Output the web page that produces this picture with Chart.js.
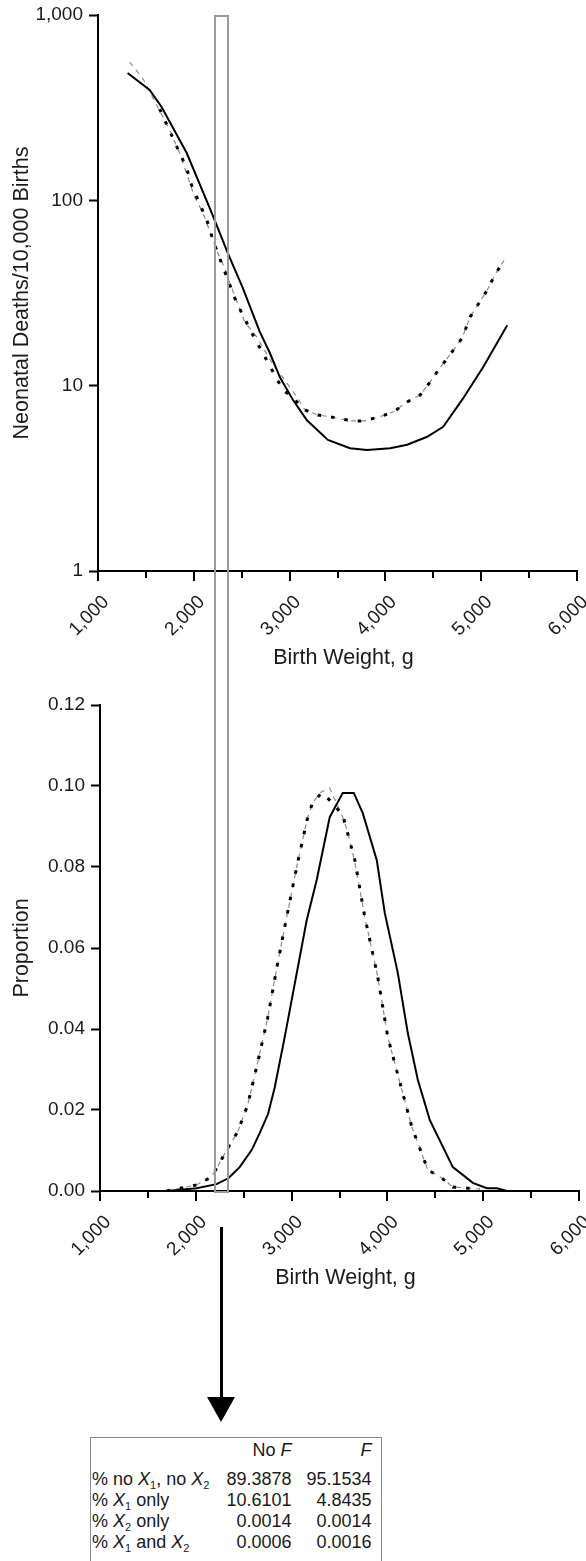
<!DOCTYPE html>
<html>
<head>
<meta charset="utf-8">
<script src="https://cdn.jsdelivr.net/npm/chart.js@4.4.1/dist/chart.umd.min.js"></script>
<style>
html,body{margin:0;padding:0;background:#fff;}
body{width:586px;height:1561px;position:relative;overflow:hidden;font-family:"Liberation Sans",Arial,sans-serif;color:#1a1a1a;}
canvas{position:absolute;left:0;}
#c1{top:0;}
#c2{top:680px;}
#rect{position:absolute;border:2px solid #9a9a9a;box-sizing:border-box;}
#shaft{position:absolute;background:#000;}
#head{position:absolute;width:0;height:0;}
#tbl{position:absolute;left:90px;top:1437px;width:292px;height:140px;border:1.5px solid #8c8c8c;box-sizing:border-box;font-size:18px;}
.r{position:absolute;left:0;width:100%;height:20px;line-height:20px;white-space:nowrap;}
.l{position:absolute;left:1px;top:0;}
.c1{position:absolute;right:89.5px;top:0;}
.c2{position:absolute;right:9.5px;top:0;}
.s{font-size:11px;position:relative;top:4px;}
i{font-style:italic;}
</style>
</head>
<body>
<canvas id="c1" width="586" height="680"></canvas>
<canvas id="c2" width="586" height="620"></canvas>
<div id="rect"></div>
<div id="shaft"></div>
<div id="head"></div>
<div id="tbl">
  <div class="r" style="top:1.5px"><span class="c1">No <i>F</i></span><span class="c2"><i>F</i></span></div>
  <div class="r" style="top:30.5px"><span class="l">% no <i>X</i><span class="s">1</span>, no <i>X</i><span class="s">2</span></span><span class="c1">89.3878</span><span class="c2">95.1534</span></div>
  <div class="r" style="top:51.5px"><span class="l">% <i>X</i><span class="s">1</span> only</span><span class="c1">10.6101</span><span class="c2">4.8435</span></div>
  <div class="r" style="top:72.5px"><span class="l">% <i>X</i><span class="s">2</span> only</span><span class="c1">0.0014</span><span class="c2">0.0014</span></div>
  <div class="r" style="top:93.5px"><span class="l">% <i>X</i><span class="s">1</span> and <i>X</i><span class="s">2</span></span><span class="c1">0.0006</span><span class="c2">0.0016</span></div>
</div>
<script>
// ---------- DATA ----------
const xTicks = [1000, 2000, 3000, 4000, 5000, 6000];
const topYTicks = [1, 10, 100, 1000];
const botYTicks = [0, 0.02, 0.04, 0.06, 0.08, 0.10, 0.12];

// Top panel: neonatal deaths per 10,000 births
const topSolidX = [1309,1539,1664,1926,2187,2354,2512,2689,2794,2899,3034,3181,3400,3630,3808,4049,4227,4436,4603,4802,5021,5272];
const topSolidY = [486,394,319,180,85.5,52,33.6,19.5,15.0,11.1,8.4,6.5,5.1,4.6,4.5,4.6,4.8,5.3,6.0,8.4,12.6,21.2];

const topDotX = [1643,1926,1968,2156,2198,2428,2490,2616,2930,3034,3159,3295,3421,3546,3662,3787,3892,3996,4101,4206,4362,4457,4551,4687,4802,4885,5063,5147,5241];
const topDotY = [311,149,124,73.6,61.1,29.7,25.3,18.8,9.5,8.6,7.4,6.95,6.8,6.6,6.45,6.45,6.7,6.95,7.3,8.06,8.9,10.3,12.1,15.0,18.1,23.5,32.8,40.0,47.6];

const topGrayX = [1330,1465,1748,1852,2009,2093,2250,2323,2375,2532,2658,2815,3076,3159,3295,3421,3546,3662,3787,3892,3996,4101,4206,4362,4457,4551,4687,4802,4885,5063,5147,5241];
const topGrayY = [557,457,240,180,104,86.5,52,43.1,35.8,22.0,18.3,13.3,8.7,7.4,6.95,6.8,6.6,6.45,6.45,6.7,6.95,7.3,8.06,8.9,10.3,12.1,15.0,18.1,23.5,32.8,40.0,47.6];

// Bottom panel: proportion of births
const botSolidX = [1695,2008,2217,2343,2458,2583,2667,2754,2823,2928,3158,3262,3398,3534,3649,3743,3889,3973,4109,4213,4318,4443,4683,4892,5038,5143,5247];
const botSolidY = [0,0.0007,0.0017,0.0032,0.0059,0.0101,0.0143,0.019,0.0255,0.038,0.0669,0.0768,0.0923,0.0983,0.0983,0.0933,0.0817,0.0686,0.0538,0.039,0.0274,0.0175,0.0059,0.002,0.0007,0.0007,0];

const botDotX = [1695,1904,2008,2165,2249,2322,2437,2541,2635,2750,2855,2949,3064,3168,3221,3315,3420,3534,3660,3764,3900,4004,4129,4255,4422,4568,4683,4829,4965];
const botDotY = [0,0.001,0.0015,0.0035,0.0069,0.0101,0.0146,0.0212,0.0306,0.0427,0.0563,0.0677,0.0812,0.0923,0.096,0.0983,0.096,0.0928,0.0817,0.0677,0.0528,0.038,0.0269,0.0158,0.0052,0.0032,0.001,0.0007,0.0005];

const botGrayX = [1695,2008,2165,2249,2322,2437,2541,2635,2750,2855,2949,3064,3168,3221,3310,3398,3534,3586,3660,3764,3900,4004,4129,4255,4422,4568,4683,4829,4965];
const botGrayY = [0,0.0015,0.0035,0.0069,0.0101,0.0146,0.0212,0.0306,0.0427,0.0563,0.0677,0.0812,0.0923,0.096,0.0985,0.0995,0.0923,0.0886,0.0812,0.0677,0.0528,0.038,0.0269,0.0158,0.0052,0.0032,0.001,0.0007,0.0005];

// highlighted birth-weight band (g)
const bandRange = [2210, 2365];

// ---------- CHARTS ----------
const FONT = '"Liberation Sans", Arial, sans-serif';
const TXT = '#1a1a1a';
const pts = (xs, ys) => xs.map((x, i) => ({x: x, y: ys[i]}));

const xTickMarks = {
  id: 'xTickMarks',
  afterDraw(chart) {
    const s = chart.scales.x, ctx = chart.ctx, y0 = chart.chartArea.bottom;
    ctx.save();
    ctx.strokeStyle = '#000';
    ctx.lineWidth = 2;
    for (let v = s.min; v <= s.max + 1e-6; v += 500) {
      const x = Math.round(s.getPixelForValue(v));
      const len = (v % 1000 === 0) ? 10 : 7;
      ctx.beginPath();
      ctx.moveTo(x, y0);
      ctx.lineTo(x, y0 + len);
      ctx.stroke();
    }
    ctx.restore();
  }
};

function datasets(sx, sy, dx, dy, gx, gy) {
  return [
    {data: pts(sx, sy), borderColor: '#000', borderWidth: 2, pointRadius: 0, tension: 0, fill: false, order: 1},
    {data: pts(dx, dy), borderColor: '#000', borderWidth: 3, borderDash: [3.5, 10], pointRadius: 0, tension: 0, fill: false, order: 2},
    {data: pts(gx, gy), borderColor: '#8a8a8a', borderWidth: 1.2, borderDash: [5, 5], pointRadius: 0, tension: 0, fill: false, order: 3}
  ];
}

function makeOptions(c) {
  return {
    responsive: false,
    animation: false,
    events: [],
    layout: {padding: {top: c.padTop, right: c.padRight, left: 0, bottom: 0}},
    plugins: {legend: {display: false}, tooltip: {enabled: false}},
    scales: {
      x: {
        type: 'linear', min: 1000, max: 6000,
        afterFit(s) { s.height = 109; s.paddingLeft = 0; s.paddingRight = 0; },
        afterBuildTicks(s) { s.ticks = xTicks.map(v => ({value: v})); },
        grid: {display: true, drawOnChartArea: false, drawTicks: false},
        border: {display: true, color: '#000', width: 2},
        ticks: {autoSkip: false, minRotation: 45, maxRotation: 45, padding: c.xPad, color: TXT,
                showLabelBackdrop: true, backdropColor: 'rgba(255,255,255,0)', backdropPadding: 0,
                font: {size: 19, family: FONT}, callback: v => Number(v).toLocaleString('en-US')},
        title: {display: true, text: '  Birth Weight, g', color: TXT, font: {size: 21.5, family: FONT},
                padding: {top: 0, bottom: 9}}
      },
      y: Object.assign({
        afterFit(s) { s.width = c.yW; s.paddingTop = 0; s.paddingBottom = 0; },
        grid: {display: true, drawOnChartArea: false, drawTicks: true, tickLength: 9, tickWidth: 2, tickColor: '#000'},
        border: {display: true, color: '#000', width: 2},
        title: {display: true, text: c.yTitle, color: TXT, font: {size: 21.5, family: FONT}, padding: {top: 9, bottom: 0}}
      }, c.y)
    }
  };
}

const chart1 = new Chart(document.getElementById('c1'), {
  type: 'line',
  data: {datasets: datasets(topSolidX, topSolidY, topDotX, topDotY, topGrayX, topGrayY)},
  options: makeOptions({
    padTop: 15, padRight: 9, xPad: 20, yW: 98, yTitle: 'Neonatal Deaths/10,000 Births',
    y: {
      type: 'logarithmic', min: 1, max: 1000,
      afterBuildTicks(s) { s.ticks = topYTicks.map(v => ({value: v})); },
      ticks: {padding: 6, color: TXT, font: {size: 19, family: FONT}, callback: v => Number(v).toLocaleString('en-US')}
    }
  }),
  plugins: [xTickMarks]
});

const chart2 = new Chart(document.getElementById('c2'), {
  type: 'line',
  data: {datasets: datasets(botSolidX, botSolidY, botDotX, botDotY, botGrayX, botGrayY)},
  options: makeOptions({
    padTop: 25, padRight: 7, xPad: 20, yW: 100, yTitle: 'Proportion',
    y: {
      type: 'linear', min: 0, max: 0.12,
      afterBuildTicks(s) { s.ticks = botYTicks.map(v => ({value: v})); },
      ticks: {padding: 6, color: TXT, font: {size: 19, family: FONT}, callback: v => Number(v).toFixed(2)}
    }
  }),
  plugins: [xTickMarks]
});

// ---------- overlay: band rectangle and arrow ----------
const xs = chart1.scales.x;
const L = xs.getPixelForValue(bandRange[0]);
const R = xs.getPixelForValue(bandRange[1]);
const T = chart1.chartArea.top;
const B = 680 + chart2.chartArea.bottom + 2;
const rect = document.getElementById('rect');
rect.style.left = L + 'px';
rect.style.width = (R - L) + 'px';
rect.style.top = T + 'px';
rect.style.height = (B - T) + 'px';

const cx = (L + R) / 2;
const shaft = document.getElementById('shaft');
shaft.style.left = (cx - 1.25) + 'px';
shaft.style.width = '2.5px';
shaft.style.top = '1227px';
shaft.style.height = '172px';
const head = document.getElementById('head');
head.style.left = (cx - 14.5) + 'px';
head.style.top = '1397px';
head.style.borderLeft = '14.5px solid transparent';
head.style.borderRight = '14.5px solid transparent';
head.style.borderTop = '25px solid #000';
</script>
</body>
</html>
